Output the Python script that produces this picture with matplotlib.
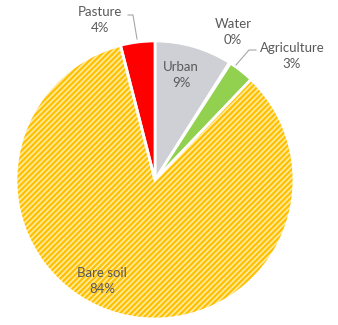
import matplotlib.pyplot as plt
from matplotlib.patches import Wedge

labels = ["Urban", "Water", "Agriculture", "Bare soil", "Pasture"]
shares = [9, 0.15, 3, 84, 4]
pct_text = ["9%", "0%", "3%", "84%", "4%"]
colors = ["#CFD0D6", "#5B9BD5", "#92D050", "#FFEBA0", "#FF0000"]
explode = [0.05, 0.05, 0.05, 0.0, 0.05]

plt.rcParams["font.family"] = ["Lato", "DejaVu Sans"]
plt.rcParams["hatch.linewidth"] = 1.6

fig = plt.figure(figsize=(3.38, 3.25), dpi=100)
ax = fig.add_axes([0, 0, 1, 1])

cx, cy, r = 155, 145, 139
wedges, _ = ax.pie(shares, colors=colors, startangle=90, counterclock=False,
                   center=(cx, cy), radius=r, explode=explode,
                   wedgeprops=dict(linewidth=2, edgecolor="white"))
ax.set_xlim(0, 338)
ax.set_ylim(0, 325)
ax.set_aspect("equal")
ax.axis("off")

for i, w in enumerate(wedges):
    if labels[i] == "Bare soil":
        w.set_hatch("//////")
        w.set_edgecolor("#FFC000")
        w.set_linewidth(0)
        # white outline on top of the hatch
        ow = Wedge(w.center, w.r, w.theta1, w.theta2, facecolor="none",
                   edgecolor="white", linewidth=2, zorder=3)
        ax.add_patch(ow)
    if labels[i] == "Water":
        w.set_visible(False)

txt = dict(color="#595959", fontsize=9.5, ha="center", va="center", linespacing=1.45)
ax.text(181, 325 - 75, labels[0] + "\n" + pct_text[0], **txt)
ax.text(233, 325 - 32, labels[1] + "\n" + pct_text[1], **txt)
ax.text(292, 325 - 56, labels[2] + "\n" + pct_text[2], **txt)
ax.text(102, 325 - 281, labels[3] + "\n" + pct_text[3], **txt)
ax.text(100, 325 - 20, labels[4] + "\n" + pct_text[4], **txt)

# leader lines
ax.plot([128, 133, 137], [325 - 15, 325 - 15, 325 - 39], color="#A6A6A6", lw=0.8)
ax.plot([236, 249, 256], [325 - 65, 325 - 50, 325 - 50], color="#A6A6A6", lw=0.8)

fig.savefig("out.png", dpi=100)
